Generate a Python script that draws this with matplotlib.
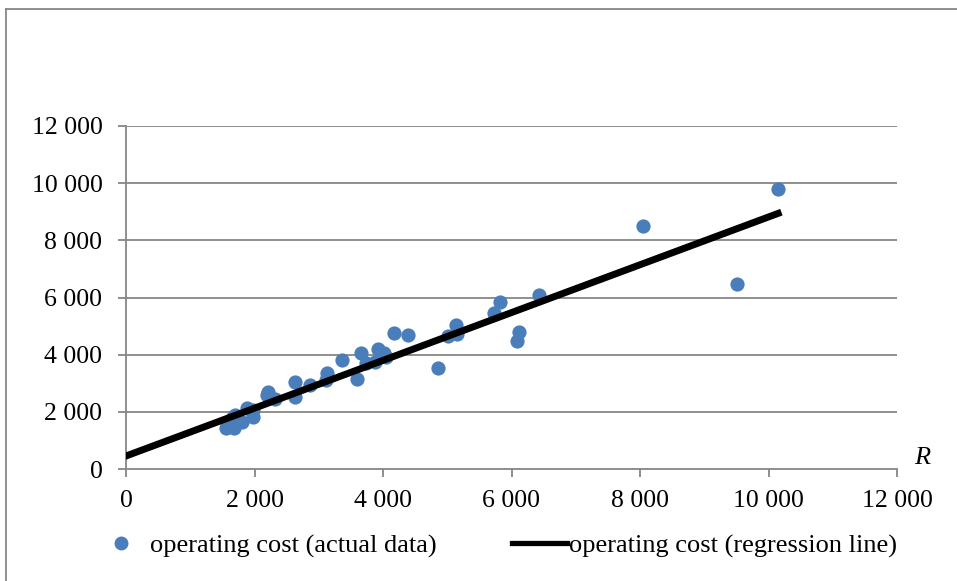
import numpy as np
import matplotlib.pyplot as plt
from matplotlib.ticker import FuncFormatter
from matplotlib.lines import Line2D

# actual data (R, operating cost)
r_actual = [1556, 1686, 1670, 1592, 1801, 1697, 1878, 1981, 1981, 2215,
            2190, 2319, 2630, 2630, 2864, 3123, 3113, 3357, 3590, 3658,
            3735, 3875, 3927, 4047, 4016, 4171, 4394, 4861, 5007, 5136,
            5157, 5728, 5821, 6122, 6081, 6433, 8052, 9505, 10153]
cost_actual = [1423, 1423, 1829, 1655, 1655, 1889, 2123, 2064, 1829, 2704,
               2589, 2438, 3054, 2529, 2938, 3347, 3113, 3813, 3138, 4047,
               3697, 3753, 4187, 3929, 4047, 4747, 4687, 3522, 4652, 5037,
               4712, 5446, 5852, 4782, 4488, 6087, 8500, 6471, 9794]

# regression line end points
r_line = [0, 10150]
cost_line = [455, 8943]

xticks = [0, 2000, 4000, 6000, 8000, 10000, 12000]
yticks = [0, 2000, 4000, 6000, 8000, 10000, 12000]

plt.rcParams['font.family'] = ['Liberation Serif', 'DejaVu Serif']

grey = '#868686'
blue = '#4a7ebb'

fig = plt.figure(figsize=(9.57, 5.81), dpi=100)
ax = fig.add_axes([126/957, 1-469/581, 771/957, 343/581])

for y in yticks[1:]:
    ax.axhline(y, color=grey, lw=1.3, zorder=1)

ax.scatter(r_actual, cost_actual, s=105, color=blue, zorder=3,
           label='operating cost (actual data)', linewidths=0)
ax.plot(r_line, cost_line, color='black', lw=5, zorder=4,
        label='operating cost (regression line)')

ax.set_xlim(0, 12000)
ax.set_ylim(0, 12000)
ax.set_xticks(xticks)
ax.set_yticks(yticks)
fmt = FuncFormatter(lambda v, p: '{:,}'.format(int(v)).replace(',', ' '))
ax.xaxis.set_major_formatter(fmt)
ax.yaxis.set_major_formatter(fmt)
ax.tick_params(axis='both', labelsize=18.5, color=grey, width=1.3, length=6)
ax.tick_params(axis='x', pad=9)
ax.tick_params(axis='y', pad=11)
for s in ['top', 'right']:
    ax.spines[s].set_visible(False)
for s in ['left', 'bottom']:
    ax.spines[s].set_color(grey)
    ax.spines[s].set_linewidth(1.3)

fig.text(922/957, 1-458/581, 'R', fontsize=19, style='italic', ha='center', va='center')

handles = [Line2D([], [], marker='o', ls='none', color=blue, markersize=9),
           Line2D([], [], color='black', lw=3.8)]
fig.legend(handles, ['operating cost (actual data)', 'operating cost (regression line)'],
           loc='center left', bbox_to_anchor=(93.5/957, 1-546/581), ncol=2, frameon=False,
           fontsize=19, handlelength=2.08, handletextpad=0.08, columnspacing=2.84,
           borderpad=0, borderaxespad=0)

# outer chart border
fig.add_artist(Line2D([6/957, 6/957], [0, 1-9/581], color=grey, lw=1.3))
fig.add_artist(Line2D([6/957, 1], [1-9/581, 1-9/581], color=grey, lw=1.3))

fig.savefig('out.png', dpi=100)
